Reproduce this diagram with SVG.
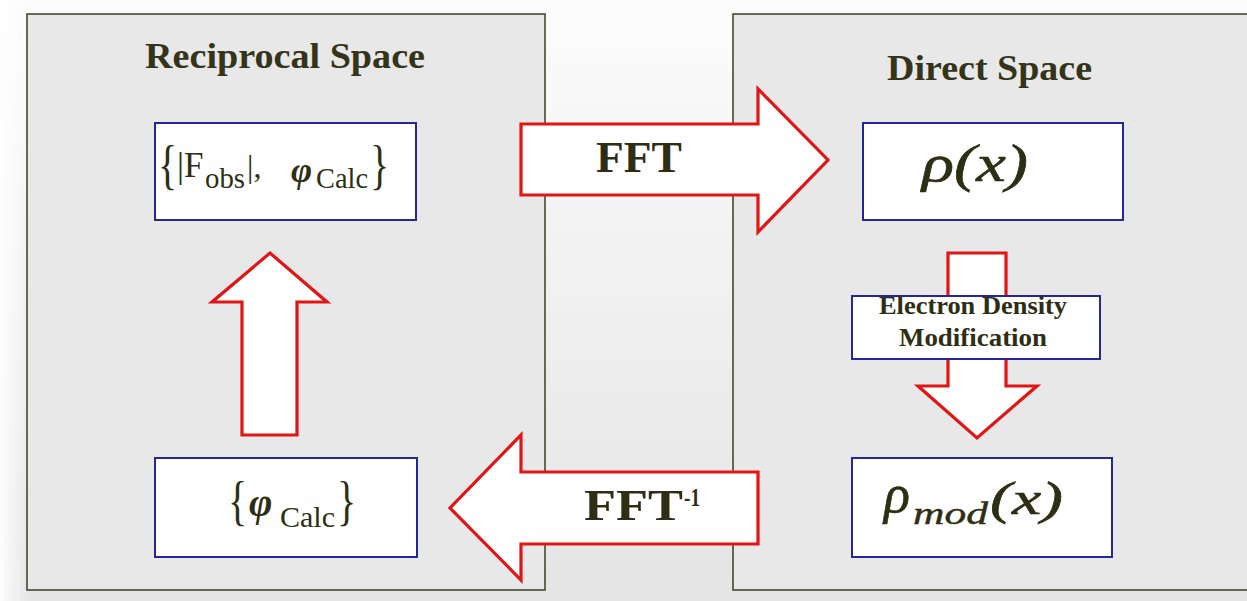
<svg xmlns="http://www.w3.org/2000/svg" width="1247" height="601" viewBox="0 0 1247 601">
  <defs>
    <linearGradient id="bg" x1="0" y1="0" x2="0" y2="1">
      <stop offset="0" stop-color="#fcfcfc"/>
      <stop offset="1" stop-color="#e4e4e4"/>
    </linearGradient>
    <linearGradient id="edge" x1="0" y1="0" x2="1" y2="0">
      <stop offset="0" stop-color="#ffffff" stop-opacity="0.9"/>
      <stop offset="1" stop-color="#ffffff" stop-opacity="0"/>
    </linearGradient>
    <style>
      .panel { fill: #e8e8e8; stroke: #3c3c26; stroke-width: 1.5; }
      .box { fill: #ffffff; stroke: #26269a; stroke-width: 2; }
      .arrow { fill: #ffffff; stroke: #e21414; stroke-width: 3.2; stroke-linejoin: miter; }
      .title { font-family: "Liberation Serif", "Times New Roman", serif; font-weight: bold; font-size: 35px; fill: #34341a; }
      .label { font-family: "Liberation Serif", "Times New Roman", serif; font-weight: bold; fill: #2e2e14; }
      .math { font-family: "Liberation Serif", "Times New Roman", serif; fill: #2e2e14; }
      .brace { font-family: "Liberation Serif", "Times New Roman", serif; fill: #2e2e14; font-size: 40px; }
      .it { font-style: italic; }
      .bi { font-style: italic; font-weight: bold; }
    </style>
  </defs>

  <!-- backdrop -->
  <rect x="0" y="0" width="1247" height="601" fill="url(#bg)"/>
  <rect x="0" y="0" width="30" height="601" fill="url(#edge)"/>

  <!-- panels -->
  <g id="reciprocal-space">
    <rect class="panel" x="27" y="14" width="518" height="576"/>
    <text class="title" x="145" y="68" textLength="280" lengthAdjust="spacingAndGlyphs">Reciprocal Space</text>
  </g>
  <g id="direct-space">
    <rect class="panel" x="733" y="14" width="530" height="576"/>
    <text class="title" x="887" y="80" textLength="205" lengthAdjust="spacingAndGlyphs">Direct Space</text>
  </g>

  <!-- connectors -->
  <g id="connectors">
    <path class="arrow" d="M521,124 H758 V89 L828,160 L758,232 V195 H521 Z"/>
    <path class="arrow" d="M758,472 H521 V435 L450,508 L521,580 V544 H758 Z"/>
    <path class="arrow" d="M242,435 V302 H212 L270,253 L327,302 H297 V435 Z"/>
    <path class="arrow" d="M948,253 H1006 V386 H1037 L977,438 L918,386 H948 Z"/>
    <text class="label" x="596" y="172" font-size="45" textLength="86" lengthAdjust="spacingAndGlyphs">FFT</text>
    <text class="label" x="584" y="520" font-size="45" textLength="99" lengthAdjust="spacingAndGlyphs">FFT</text>
    <text class="label" x="684" y="506" font-size="25" textLength="16" lengthAdjust="spacingAndGlyphs">-1</text>
  </g>

  <!-- nodes -->
  <g id="node-fobs-phicalc">
    <rect class="box" x="155" y="123" width="261" height="97"/>
    <text class="brace" transform="translate(158,183) scale(1,1.35)">{</text>
    <text class="math" x="177" y="177" font-size="35">|F</text>
    <text class="math" x="205" y="188" font-size="30" textLength="40" lengthAdjust="spacingAndGlyphs">obs</text>
    <text class="math" x="247" y="177" font-size="32">|,</text>
    <text class="math bi" x="291" y="182" font-size="36">φ</text>
    <text class="math" x="316" y="188" font-size="29" textLength="52" lengthAdjust="spacingAndGlyphs">Calc</text>
    <text class="brace" transform="translate(370,183) scale(1,1.35)">}</text>
  </g>

  <g id="node-phicalc">
    <rect class="box" x="155" y="458" width="262" height="99"/>
    <text class="brace" transform="translate(228,519) scale(1,1.35)">{</text>
    <text class="math bi" x="249" y="516" font-size="40">φ</text>
    <text class="math" x="280" y="527" font-size="29" textLength="55" lengthAdjust="spacingAndGlyphs">Calc</text>
    <text class="brace" transform="translate(337,519) scale(1,1.35)">}</text>
  </g>

  <g id="node-rho">
    <rect class="box" x="863" y="123" width="260" height="97"/>
    <text class="math it" x="922" y="181" font-size="52" stroke="#2e2e14" stroke-width="0.6" textLength="106" lengthAdjust="spacingAndGlyphs">ρ(x)</text>
  </g>

  <g id="node-density-modification">
    <rect class="box" x="852" y="296" width="248" height="63"/>
    <text class="label" x="879" y="314" font-size="25" textLength="188" lengthAdjust="spacingAndGlyphs">Electron Density</text>
    <text class="label" x="899" y="346" font-size="25" textLength="148" lengthAdjust="spacingAndGlyphs">Modification</text>
  </g>

  <g id="node-rho-mod">
    <rect class="box" x="852" y="458" width="260" height="99"/>
    <text class="math it" x="884" y="512" font-size="54" stroke="#2e2e14" stroke-width="0.6">ρ</text>
    <text class="math it" x="913" y="524" font-size="31" stroke="#2e2e14" stroke-width="0.4" textLength="75" lengthAdjust="spacingAndGlyphs">mod</text>
    <text class="math it" x="990" y="514" font-size="46" stroke="#2e2e14" stroke-width="0.6" textLength="73" lengthAdjust="spacingAndGlyphs">(x)</text>
  </g>
</svg>
